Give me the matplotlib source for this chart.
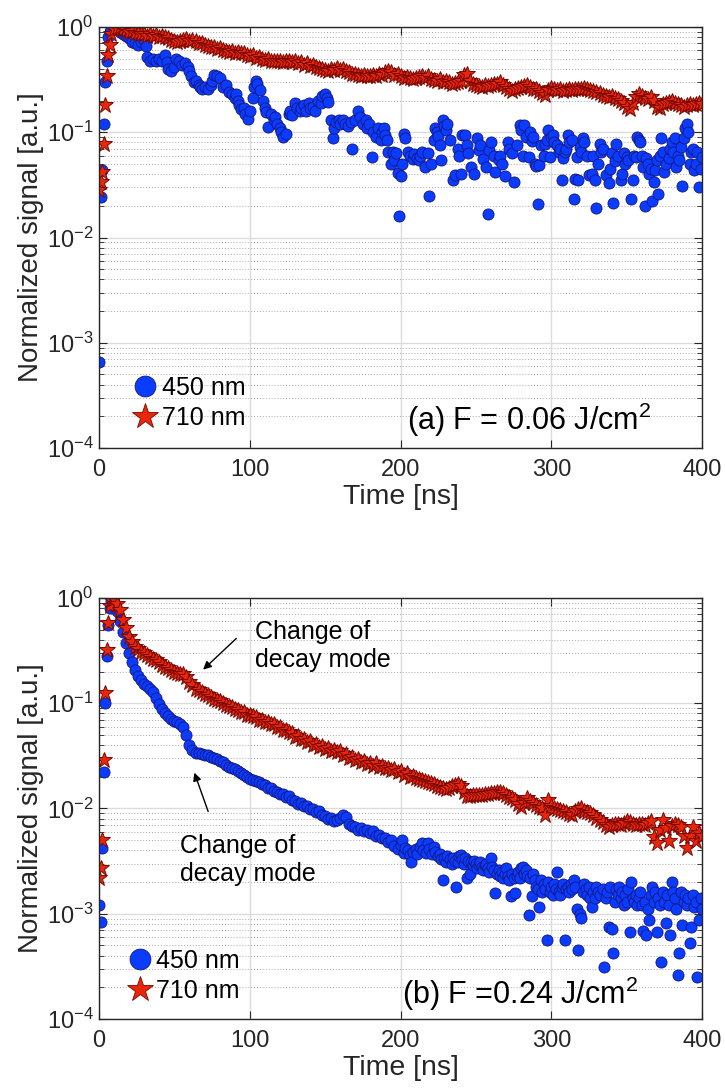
"""
Normalized decay signals at 450 nm and 710 nm for two fluences.
"""

import matplotlib
matplotlib.use('Agg')  # Non-interactive backend
import matplotlib.pyplot as plt
from matplotlib.lines import Line2D

# ---------------- panel (a): F = 0.06 J/cm2 ----------------
t_blue_a = [
    0, 1, 2, 3, 4, 5, 6, 7, 8, 10,
    12, 14, 16, 18, 20, 22, 24, 26, 28, 30,
    31, 32, 34, 36, 38, 40, 42, 44, 45, 46,
    48, 50, 51, 53, 55, 57, 59, 60, 61, 63,
    64, 66, 67, 68, 70, 72, 74, 75, 76, 78,
    80, 82, 84, 86, 88, 90, 91, 92, 93, 94,
    96, 97, 99, 100, 102, 103, 104, 105, 107, 109,
    110, 111, 112, 114, 116, 117, 118, 120, 121, 122,
    124, 126, 127, 128, 130, 131, 133, 134, 136, 137,
    139, 140, 142, 143, 145, 147, 148, 150, 151, 152,
    154, 155, 156, 157, 159, 160, 162, 163, 165, 167,
    168, 170, 172, 173, 175, 177, 178, 179, 181, 182,
    184, 185, 187, 188, 189, 190, 191, 192, 194, 195,
    196, 197, 198, 199, 200, 201, 202, 203, 205, 206,
    208, 209, 211, 212, 213, 214, 216, 218, 219, 220,
    222, 223, 224, 225, 226, 227, 228, 229, 230, 231,
    233, 235, 236, 238, 239, 240, 241, 243, 244, 245,
    247, 249, 251, 252, 253, 255, 257, 258, 259, 260,
    262, 263, 265, 266, 267, 269, 271, 272, 274, 275,
    277, 279, 280, 281, 282, 283, 285, 286, 287, 288,
    289, 290, 291, 292, 293, 295, 296, 297, 298, 299,
    300, 301, 302, 304, 305, 306, 307, 308, 309, 310,
    311, 312, 314, 315, 316, 317, 318, 319, 320, 321,
    322, 324, 325, 327, 328, 329, 330, 331, 332, 333,
    334, 336, 338, 339, 340, 341, 342, 343, 344, 346,
    347, 348, 349, 350, 351, 353, 354, 355, 356, 357,
    358, 359, 360, 361, 362, 363, 364, 365, 366, 367,
    368, 369, 370, 371, 372, 373, 374, 375, 376, 378,
    379, 380, 381, 382, 383, 384, 385, 386, 387, 388,
    389, 390, 391, 392, 393, 394, 395, 396, 397, 398,
    399, 400,
]
sig_blue_a = [
    0.00065, 0.024, 0.044, 0.12, 0.30, 0.47, 0.80, 0.90, 0.95, 1.0,
    0.98, 0.90, 0.85, 0.82, 0.78, 0.72, 0.70, 0.68, 0.72, 0.75,
    0.66, 0.52, 0.48, 0.50, 0.47, 0.50, 0.48, 0.54, 0.46, 0.40,
    0.38, 0.42, 0.50, 0.47, 0.44, 0.45, 0.42, 0.38, 0.34, 0.30,
    0.31, 0.28, 0.27, 0.26, 0.27, 0.26, 0.28, 0.31, 0.35, 0.34,
    0.33, 0.27, 0.28, 0.24, 0.23, 0.21, 0.23, 0.20, 0.18, 0.165,
    0.17, 0.15, 0.135, 0.16, 0.21, 0.27, 0.31, 0.29, 0.25, 0.20,
    0.17, 0.155, 0.113, 0.15, 0.13, 0.14, 0.12, 0.11, 0.10, 0.09,
    0.097, 0.15, 0.16, 0.145, 0.19, 0.17, 0.16, 0.17, 0.18, 0.16,
    0.19, 0.17, 0.175, 0.16, 0.20, 0.19, 0.22, 0.23, 0.21, 0.195,
    0.13, 0.088, 0.11, 0.125, 0.13, 0.12, 0.13, 0.12, 0.115, 0.125,
    0.07, 0.13, 0.16, 0.14, 0.12, 0.13, 0.11, 0.12, 0.058, 0.10,
    0.09, 0.11, 0.085, 0.10, 0.11, 0.095, 0.085, 0.065, 0.05, 0.065,
    0.055, 0.063, 0.041, 0.016, 0.038, 0.05, 0.097, 0.088, 0.065, 0.06,
    0.056, 0.062, 0.057, 0.055, 0.06, 0.065, 0.047, 0.063, 0.025, 0.05,
    0.084, 0.11, 0.10, 0.093, 0.076, 0.054, 0.13, 0.115, 0.105, 0.12,
    0.084, 0.035, 0.039, 0.07, 0.06, 0.04, 0.095, 0.095, 0.075, 0.063,
    0.047, 0.04, 0.088, 0.068, 0.075, 0.056, 0.047, 0.0167, 0.068, 0.08,
    0.06, 0.042, 0.055, 0.06, 0.05, 0.038, 0.08, 0.07, 0.063, 0.034,
    0.076, 0.116, 0.105, 0.06, 0.116, 0.09, 0.058, 0.10, 0.082, 0.09,
    0.05, 0.048, 0.021, 0.049, 0.075, 0.06, 0.078, 0.085, 0.105, 0.058,
    0.09, 0.094, 0.08, 0.076, 0.065, 0.07, 0.035, 0.057, 0.065, 0.07,
    0.094, 0.08, 0.084, 0.023, 0.036, 0.058, 0.035, 0.072, 0.065, 0.088,
    0.08, 0.06, 0.039, 0.04, 0.06, 0.035, 0.0189, 0.05, 0.078, 0.065,
    0.07, 0.039, 0.033, 0.045, 0.063, 0.0214, 0.053, 0.078, 0.06, 0.035,
    0.04, 0.063, 0.05, 0.058, 0.054, 0.023, 0.035, 0.06, 0.058, 0.09,
    0.085, 0.081, 0.06, 0.047, 0.0199, 0.057, 0.05, 0.04, 0.045, 0.022,
    0.034, 0.044, 0.054, 0.026, 0.06, 0.088, 0.065, 0.042, 0.05, 0.057,
    0.07, 0.081, 0.065, 0.088, 0.047, 0.06, 0.055, 0.073, 0.031, 0.088,
    0.11, 0.121, 0.10, 0.05, 0.065, 0.07, 0.044, 0.05, 0.065, 0.03,
    0.045, 0.058,
]

t_red_a = [
    0, 1, 2, 3, 4, 5, 6, 7, 8, 10,
    12, 14, 16, 18, 20, 22, 24, 26, 28, 30,
    32, 34, 36, 38, 40, 42, 44, 46, 48, 50,
    52, 54, 56, 58, 60, 62, 64, 66, 68, 70,
    72, 74, 76, 78, 80, 82, 84, 86, 88, 90,
    92, 94, 96, 98, 100, 102, 104, 106, 108, 110,
    112, 114, 116, 118, 120, 122, 124, 126, 128, 130,
    132, 134, 136, 138, 140, 142, 144, 146, 148, 150,
    152, 154, 156, 158, 160, 162, 164, 166, 168, 170,
    172, 174, 176, 178, 180, 182, 184, 186, 188, 190,
    192, 194, 196, 198, 200, 202, 204, 206, 208, 210,
    212, 214, 216, 218, 220, 222, 224, 226, 228, 230,
    232, 234, 236, 238, 240, 242, 244, 246, 248, 250,
    252, 254, 256, 258, 260, 262, 264, 266, 268, 270,
    272, 274, 276, 278, 280, 282, 284, 286, 288, 290,
    292, 294, 296, 298, 300, 302, 304, 306, 308, 310,
    312, 314, 316, 318, 320, 322, 324, 326, 328, 330,
    332, 334, 336, 338, 340, 342, 344, 346, 348, 350,
    352, 354, 356, 358, 360, 362, 364, 366, 368, 370,
    372, 374, 376, 378, 380, 382, 384, 386, 388, 390,
    392, 394, 396, 398, 400,
]
sig_red_a = [
    0.028, 0.034, 0.042, 0.077, 0.18, 0.34, 0.54, 0.67, 0.85, 0.95,
    0.97, 1.00, 0.96, 0.93, 0.90, 0.91, 0.87, 0.88, 0.85, 0.86,
    0.83, 0.85, 0.82, 0.84, 0.81, 0.83, 0.80, 0.78, 0.76, 0.74,
    0.72, 0.74, 0.75, 0.77, 0.74, 0.76, 0.73, 0.71, 0.70, 0.67,
    0.66, 0.64, 0.65, 0.62, 0.63, 0.60, 0.59, 0.58, 0.59, 0.57,
    0.58, 0.56, 0.57, 0.54, 0.53, 0.54, 0.51, 0.52, 0.50, 0.49,
    0.50, 0.48, 0.47, 0.48, 0.47, 0.46, 0.47, 0.48, 0.46, 0.47,
    0.45, 0.46, 0.44, 0.45, 0.43, 0.44, 0.42, 0.41, 0.40, 0.39,
    0.385, 0.40, 0.39, 0.41, 0.39, 0.40, 0.38, 0.37, 0.36, 0.355,
    0.35, 0.345, 0.35, 0.34, 0.345, 0.35, 0.34, 0.36, 0.35, 0.37,
    0.38, 0.37, 0.35, 0.355, 0.34, 0.33, 0.335, 0.325, 0.32, 0.33,
    0.335, 0.34, 0.33, 0.34, 0.32, 0.315, 0.31, 0.32, 0.30, 0.31,
    0.30, 0.29, 0.295, 0.30, 0.31, 0.35, 0.36, 0.31, 0.29, 0.28,
    0.275, 0.27, 0.28, 0.275, 0.28, 0.29, 0.285, 0.30, 0.28, 0.27,
    0.255, 0.245, 0.26, 0.265, 0.27, 0.275, 0.28, 0.27, 0.26, 0.255,
    0.245, 0.235, 0.225, 0.25, 0.265, 0.26, 0.25, 0.255, 0.245, 0.25,
    0.255, 0.25, 0.26, 0.255, 0.26, 0.265, 0.26, 0.25, 0.245, 0.24,
    0.235, 0.225, 0.22, 0.215, 0.22, 0.21, 0.205, 0.20, 0.19, 0.175,
    0.165, 0.19, 0.215, 0.23, 0.22, 0.21, 0.205, 0.215, 0.20, 0.175,
    0.17, 0.185, 0.19, 0.195, 0.20, 0.19, 0.185, 0.18, 0.175, 0.18,
    0.185, 0.18, 0.185, 0.19, 0.185,
]

# ---------------- panel (b): F = 0.24 J/cm2 ----------------
t_blue_b = [
    0, 1, 2, 3, 4, 5, 6, 7, 8, 9,
    10, 12, 14, 16, 18, 20, 22, 24, 26, 28,
    30, 32, 34, 36, 38, 40, 42, 44, 46, 48,
    50, 52, 54, 56, 58, 60, 62, 64, 66, 68,
    70, 72, 74, 76, 78, 80, 82, 84, 86, 88,
    90, 92, 94, 96, 98, 100, 102, 104, 106, 108,
    110, 112, 114, 116, 118, 120, 122, 124, 126, 128,
    130, 132, 134, 136, 138, 140, 142, 144, 146, 148,
    150, 152, 154, 156, 158, 160, 162, 164, 166, 168,
    170, 172, 174, 176, 178, 180, 182, 184, 186, 188,
    190, 192, 194, 196, 198, 200,
    201, 202, 203, 205, 206, 207, 208, 210, 211, 213,
    214, 215, 217, 218, 219, 221, 222, 223, 225, 226,
    227, 228, 229, 230, 231, 233, 234, 235, 236, 237,
    238, 239, 240, 241, 242, 243, 244, 245, 246, 247,
    248, 249, 250, 251, 252, 253, 254, 255, 256, 257,
    258, 259, 260, 261, 262, 263, 264, 265, 266, 267,
    268, 269, 270, 271, 272, 273, 274, 275, 276, 277,
    278, 279, 280, 281, 282, 283, 284, 285, 286, 287,
    288, 289, 290, 291, 292, 293, 294, 295, 296, 297,
    298, 299, 300, 301, 302, 303, 304, 305, 306, 307,
    308, 309, 310, 311, 312, 313, 314, 315, 316, 317,
    318, 319, 320, 321, 322, 323, 324, 325, 326, 327,
    328, 329, 330, 331, 332, 334, 335, 336, 337, 338,
    339, 340, 341, 342, 343, 344, 345, 346, 347, 348,
    349, 350, 351, 352, 353, 354, 355, 356, 357, 358,
    359, 360, 361, 362, 363, 364, 365, 366, 367, 368,
    369, 370, 371, 372, 373, 374, 375, 376, 377, 378,
    379, 380, 381, 382, 383, 384, 385, 386, 387, 388,
    389, 390, 391, 392, 393, 394, 395, 396, 397, 398,
    399, 400,
]
sig_blue_b = [
    0.0012, 0.00084, 0.0042, 0.022, 0.10, 0.28, 0.55, 0.80, 0.93, 1.0,
    0.92, 0.76, 0.60, 0.47, 0.37, 0.30, 0.245, 0.205, 0.182, 0.165,
    0.152, 0.145, 0.138, 0.128, 0.112, 0.098, 0.088, 0.080, 0.075, 0.071,
    0.068, 0.066, 0.063, 0.060, 0.050, 0.040, 0.036, 0.034, 0.0334, 0.033,
    0.0325, 0.032, 0.031, 0.030, 0.0293, 0.0285, 0.0275, 0.026, 0.025, 0.0243,
    0.0235, 0.0226, 0.0218, 0.0208, 0.0198, 0.0192, 0.0188, 0.0183, 0.0178, 0.0172,
    0.0166, 0.0158, 0.0157, 0.0147, 0.0144, 0.0136, 0.0137, 0.0129, 0.0130, 0.0120,
    0.0118, 0.0110, 0.0112, 0.0105, 0.0106, 0.0099, 0.0099, 0.0092, 0.0094, 0.0086,
    0.0085, 0.0080, 0.0081, 0.0076, 0.0077, 0.0081, 0.0086, 0.0083, 0.0071, 0.0068,
    0.0067, 0.0063, 0.0065, 0.0061, 0.0062, 0.0058, 0.0061, 0.0055, 0.0056, 0.0052,
    0.0052, 0.0048, 0.0050, 0.0044, 0.0041, 0.0045,
    0.0050, 0.0038, 0.0042, 0.0040, 0.0036, 0.0031, 0.0039, 0.0041, 0.0037, 0.0043,
    0.0047, 0.0040, 0.0038, 0.0047, 0.0041, 0.0037, 0.0043, 0.0039, 0.0035, 0.0037,
    0.0033, 0.0021, 0.0034, 0.0031, 0.0035, 0.0033, 0.0030, 0.0034, 0.0032, 0.0018,
    0.0031, 0.0035, 0.0036, 0.0033, 0.0030, 0.0034, 0.0022, 0.0032, 0.0024, 0.0031,
    0.0029, 0.0032, 0.0030, 0.0027, 0.0029, 0.0031, 0.0028, 0.0026, 0.0029, 0.0030,
    0.0027, 0.0025, 0.0034, 0.0028, 0.0026, 0.00156, 0.0024, 0.0026, 0.0023, 0.0025,
    0.0022, 0.0024, 0.0027, 0.0023, 0.0021, 0.00146, 0.0024, 0.0022, 0.00156, 0.0023,
    0.0025, 0.0022, 0.0027, 0.0028, 0.0024, 0.0026, 0.0023, 0.00097, 0.0022, 0.00146,
    0.0024, 0.0021, 0.0018, 0.0017, 0.00117, 0.0021, 0.0016, 0.0019, 0.0017, 0.00056,
    0.0020, 0.0016, 0.0018, 0.0015, 0.0019, 0.0017, 0.0025, 0.0016, 0.0015, 0.0018,
    0.0019, 0.00056, 0.0017, 0.0018, 0.0016, 0.0019, 0.0017, 0.0021, 0.0018, 0.0011,
    0.00045, 0.0010, 0.00092, 0.0016, 0.0019, 0.0017, 0.0015, 0.0018, 0.0014, 0.00117,
    0.0016, 0.0014, 0.0018, 0.0016, 0.0015, 0.0017, 0.00031, 0.0014, 0.0016, 0.00075,
    0.0018, 0.00072, 0.00042, 0.0013, 0.0017, 0.0015, 0.0018, 0.0014, 0.0016, 0.0012,
    0.0015, 0.0013, 0.0017, 0.00067, 0.0020, 0.0014, 0.0013, 0.0015, 0.0012, 0.0014,
    0.0016, 0.0012, 0.00069, 0.0013, 0.00063, 0.0011, 0.00088, 0.0015, 0.0018, 0.0013,
    0.0016, 0.00067, 0.0014, 0.0012, 0.00035, 0.0016, 0.0013, 0.00082, 0.0015, 0.0012,
    0.00063, 0.0020, 0.0016, 0.0014, 0.0011, 0.00026, 0.00042, 0.0016, 0.00079, 0.0013,
    0.0015, 0.0012, 0.0014, 0.00053, 0.00075, 0.0015, 0.00117, 0.0013, 0.00025, 0.00088,
    0.0014, 0.0011,
]

t_red_b = [
    0, 1, 2, 3, 4, 5, 6, 7, 8, 9,
    10, 12, 14, 16, 18, 20, 22, 24, 26, 28,
    30, 32, 34, 36, 38, 40, 42, 44, 46, 48,
    50, 52, 54, 56, 58, 60, 62, 64, 66, 68,
    70, 72, 74, 76, 78, 80, 82, 84, 86, 88,
    90, 92, 94, 96, 98, 100, 102, 104, 106, 108,
    110, 112, 114, 116, 118, 120, 122, 124, 126, 128,
    130, 132, 134, 136, 138, 140, 142, 144, 146, 148,
    150, 152, 154, 156, 158, 160, 162, 164, 166, 168,
    170, 172, 174, 176, 178, 180, 182, 184, 186, 188,
    190, 192, 194, 196, 198, 200, 202, 204, 206, 208,
    210, 212, 214, 216, 218, 220, 222, 224, 226, 228,
    230, 232, 234, 236, 238, 240, 242, 244, 246, 248,
    250, 252, 254, 256, 258, 260, 262, 264, 266, 268,
    270, 272, 274, 276, 278, 280, 282, 284, 286, 288,
    290, 292, 294, 296, 298, 300, 302, 304, 306, 308,
    310, 312, 314, 316, 318, 320, 322, 324, 326, 328,
    330, 332, 334, 336, 338, 340, 342, 344, 346, 348,
    350, 352, 354, 356, 358, 360, 362, 364, 366, 368,
    370, 372, 374, 376, 378, 380, 382, 384, 386, 388,
    390, 392, 394, 396, 398, 400,
]
sig_red_b = [
    0.0022, 0.0027, 0.005, 0.029, 0.124, 0.32, 0.58, 0.83, 0.95, 1.0,
    0.97, 0.87, 0.77, 0.62, 0.52, 0.43, 0.38, 0.345, 0.33, 0.31,
    0.30, 0.29, 0.275, 0.265, 0.255, 0.245, 0.232, 0.222, 0.215, 0.205,
    0.20, 0.195, 0.19, 0.188, 0.178, 0.16, 0.148, 0.138, 0.133, 0.128,
    0.122, 0.119, 0.114, 0.11, 0.107, 0.104, 0.10, 0.097, 0.094, 0.092,
    0.089, 0.087, 0.083, 0.082, 0.078, 0.078, 0.075, 0.074, 0.070, 0.070,
    0.066, 0.067, 0.063, 0.063, 0.060, 0.060, 0.056, 0.056, 0.053, 0.052,
    0.048, 0.049, 0.046, 0.046, 0.043, 0.044, 0.040, 0.041, 0.038, 0.039,
    0.0365, 0.0378, 0.0352, 0.0362, 0.0342, 0.0348, 0.0325, 0.0328, 0.0305, 0.031,
    0.029, 0.0295, 0.0275, 0.028, 0.0265, 0.027, 0.0255, 0.0268, 0.025, 0.0255,
    0.024, 0.0245, 0.023, 0.0235, 0.0222, 0.0225, 0.021, 0.0215, 0.020, 0.0205,
    0.0195, 0.019, 0.0188, 0.0182, 0.018, 0.0175, 0.017, 0.0165, 0.016, 0.0156,
    0.0153, 0.0158, 0.0165, 0.0168, 0.017, 0.0165, 0.0145, 0.013, 0.0132, 0.0135,
    0.0134, 0.0133, 0.0134, 0.0136, 0.0138, 0.014, 0.0139, 0.0142, 0.0143, 0.014,
    0.0133, 0.0128, 0.0126, 0.012, 0.011, 0.0104, 0.0112, 0.0126, 0.0118, 0.0112,
    0.0108, 0.0104, 0.0102, 0.0086, 0.012, 0.0106, 0.0102, 0.0099, 0.0097, 0.0095,
    0.0093, 0.0088, 0.0086, 0.0094, 0.0099, 0.0101, 0.0095, 0.0092, 0.009, 0.0086,
    0.0081, 0.0077, 0.0074, 0.0069, 0.0067, 0.0069, 0.0071, 0.0072, 0.007, 0.0073,
    0.0076, 0.0074, 0.0072, 0.007, 0.0071, 0.0072, 0.007, 0.0073, 0.0076, 0.0054,
    0.0047, 0.0062, 0.0078, 0.0065, 0.0049, 0.0068, 0.0071, 0.0069, 0.0067, 0.0055,
    0.0042, 0.0055, 0.0067, 0.0049, 0.0058, 0.0055,
]

labels = ['450 nm', '710 nm']
x_ticks = [0, 100, 200, 300, 400]

BLUE = '#0a3cff'
BLUE_EDGE = '#15157a'
RED = '#e8260c'
RED_EDGE = '#7a0800'
AX_COLOR = '#262626'

plt.rcParams['font.family'] = ['Liberation Sans', 'DejaVu Sans']


def style_axes(ax):
    ax.set_yscale('log')
    ax.set_xlim(0, 400)
    ax.set_ylim(1e-4, 1)
    ax.set_xticks(x_ticks)
    ax.tick_params(which='both', direction='in', top=True, right=True,
                   colors=AX_COLOR, labelsize=17)
    ax.tick_params(which='major', length=6, width=0.8)
    ax.tick_params(which='minor', length=3.5, width=0.6)
    ax.tick_params(axis='x', pad=8)
    ax.tick_params(axis='y', pad=4)
    ax.grid(True, which='major', color='#dcdcdc', lw=1.0, ls='-')
    ax.grid(True, which='minor', axis='y', color='#a8a8a8', lw=0.7, ls=(0, (1, 2)))
    ax.set_axisbelow(True)
    for s in ax.spines.values():
        s.set_linewidth(1.0)
        s.set_color(AX_COLOR)
    ax.set_xlabel('Time [ns]', fontsize=20.5, color=AX_COLOR, labelpad=2)
    ax.set_ylabel('Normalized signal [a.u.]', fontsize=20, color=AX_COLOR, labelpad=2)


def plot_series(ax, tb, sb, tr, sr):
    ax.plot(tb, sb, 'o', ls='', ms=8, mfc=BLUE, mec=BLUE_EDGE, mew=0.6)
    ax.plot(tr, sr, '*', ls='', ms=12, mfc=RED, mec=RED_EDGE, mew=0.7)


def add_legend(ax, anchor):
    handles = [
        Line2D([], [], marker='o', ls='', ms=15, mfc=BLUE, mec=BLUE_EDGE, mew=0.6),
        Line2D([], [], marker='*', ls='', ms=19, mfc=RED, mec=RED_EDGE, mew=0.6),
    ]
    ax.legend(handles, labels, loc='lower left', bbox_to_anchor=anchor,
              frameon=False, fontsize=18, handlelength=1.0, handletextpad=0.15,
              labelspacing=0.25, borderpad=0, borderaxespad=0)


fig = plt.figure(figsize=(7.25, 10.88), dpi=100)
ax_a = fig.add_axes([0.1366, 0.5882, 0.8317, 0.3870])
ax_b = fig.add_axes([0.1366, 0.0634, 0.8317, 0.3870])

# panel (a)
plot_series(ax_a, t_blue_a, sig_blue_a, t_red_a, sig_red_a)
style_axes(ax_a)
add_legend(ax_a, (0.056, 0.043))
ax_a.text(204, 1.48e-4, '(a) F = 0.06 J/cm$^{\\mathdefault{2}}$', fontsize=22,
          va='baseline', ha='left')

# panel (b)
plot_series(ax_b, t_blue_b, sig_blue_b, t_red_b, sig_red_b)
style_axes(ax_b)
add_legend(ax_b, (0.047, 0.038))
ax_b.text(201, 1.40e-4, '(b) F =0.24 J/cm$^{\\mathdefault{2}}$', fontsize=22,
          va='baseline', ha='left')

arrow = dict(arrowstyle='-|>', color='black', lw=1.0, mutation_scale=12)
ax_b.annotate('', xy=(67.7, 0.20), xytext=(92.4, 0.43), arrowprops=arrow)
ax_b.text(103.5, 0.62, 'Change of\ndecay mode', fontsize=18, va='top', ha='left',
          linespacing=1.2)
ax_b.annotate('', xy=(62.6, 0.0232), xytext=(73, 0.00885), arrowprops=arrow)
ax_b.text(53.7, 0.0057, 'Change of\ndecay mode', fontsize=18, va='top', ha='left',
          linespacing=1.2)

fig.savefig('out.png', dpi=100)
